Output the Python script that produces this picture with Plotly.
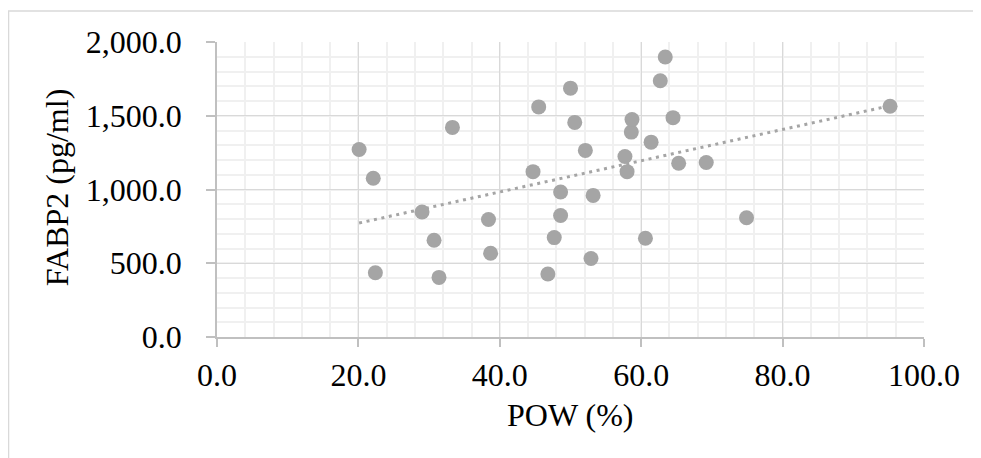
import numpy as np
import plotly.graph_objects as go

# Data
pow_pct = [20.1, 22.1, 22.4, 29.0, 30.7, 31.4, 33.3, 38.4, 38.7, 44.7, 45.5,
           46.8, 47.7, 48.6, 48.6, 50.0, 50.6, 52.1, 52.9, 53.2, 57.7, 58.0,
           58.6, 58.7, 60.6, 61.4, 62.7, 63.4, 64.5, 65.3, 69.2, 74.9, 95.2]
fabp2 = [1271, 1076, 436, 847, 656, 404, 1421, 797, 568, 1121, 1560,
         427, 674, 983, 824, 1687, 1455, 1265, 532, 960, 1224, 1121,
         1389, 1474, 670, 1321, 1737, 1898, 1487, 1178, 1183, 808, 1564]
x_ticks = [0, 20, 40, 60, 80, 100]
y_ticks = [0, 500, 1000, 1500, 2000]
x_title = "POW (%)"
y_title = "FABP2 (pg/ml)"

# Linear trendline (least squares)
slope, intercept = np.polyfit(pow_pct, fabp2, 1)
tx = [min(pow_pct), max(pow_pct)]
ty = [slope * v + intercept for v in tx]

GREY = "#a5a5a5"
FONT = "Liberation Serif, Times New Roman, serif"
FS = 32

fig = go.Figure()
fig.add_trace(go.Scatter(
    x=tx, y=ty, mode="lines",
    line=dict(color=GREY, width=3, dash="3px,4.6px"),
    hoverinfo="skip", showlegend=False))
fig.add_trace(go.Scatter(
    x=pow_pct, y=fabp2, mode="markers",
    marker=dict(color=GREY, size=15, line=dict(width=0)),
    showlegend=False))

fig.update_layout(
    width=973, height=450,
    margin=dict(l=209, r=57, t=34, b=121),
    paper_bgcolor="white", plot_bgcolor="white",
    font=dict(family=FONT, size=FS, color="black"),
    showlegend=False,
)
fig.update_xaxes(
    range=[0, 100], tickvals=x_ticks, tickformat=".1f",
    showgrid=True, gridcolor="#d9d9d9", gridwidth=1,
    minor=dict(dtick=4, showgrid=True, gridcolor="#f0f0f0", gridwidth=1.5),
    showline=True, linecolor="#c0c0c0", linewidth=1.5,
    ticks="outside", ticklen=8, tickcolor="#c0c0c0", tickwidth=1.5,
    zeroline=False, tickfont=dict(family=FONT, size=FS, color="black"),
    ticklabelstandoff=1,
)
fig.update_yaxes(
    range=[0, 2000], tickvals=y_ticks, tickformat=",.1f",
    showgrid=True, gridcolor="#d9d9d9", gridwidth=1,
    minor=dict(dtick=100, showgrid=True, gridcolor="#f0f0f0", gridwidth=1.5),
    showline=True, linecolor="#c0c0c0", linewidth=1.5,
    ticks="outside", ticklen=9, tickcolor="#c0c0c0", tickwidth=1.5,
    zeroline=False, tickfont=dict(family=FONT, size=FS, color="black"),
    ticklabelstandoff=18,
)

fig.add_annotation(
    text=y_title, xref="paper", yref="paper", x=-0.226, y=0.508,
    xanchor="center", yanchor="middle", textangle=-90, showarrow=False,
    font=dict(family=FONT, size=FS, color="black"))
fig.add_annotation(
    text=x_title, xref="paper", yref="paper", x=0.5, y=-0.264,
    xanchor="center", yanchor="middle", showarrow=False,
    font=dict(family=FONT, size=FS, color="black"))

# outer chart-area border
fig.add_shape(type="rect", xref="paper", yref="paper",
              x0=-0.2949, x1=1.3, y0=-0.6, y1=1.105,
              line=dict(color="#d9d9d9", width=1.5), fillcolor="rgba(0,0,0,0)",
              layer="below")

fig.write_html("out.html")
